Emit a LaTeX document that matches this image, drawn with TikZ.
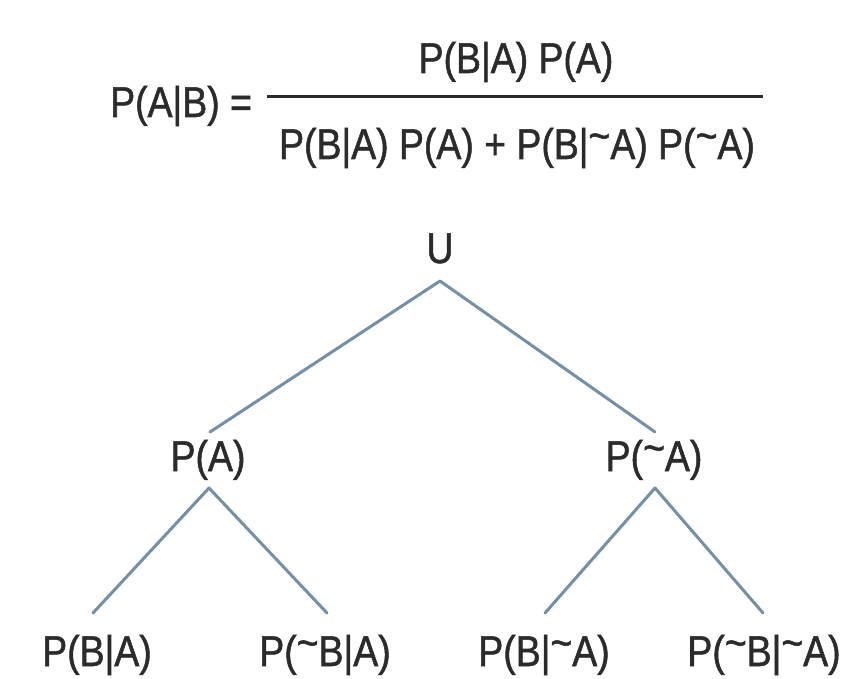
\documentclass[tikz,border=0pt]{standalone}
\usepackage{fontspec}
\setmainfont{Liberation Sans}[FakeStretch=0.87, FakeBold=1.2]
\newcommand\tild{\raisebox{0.2em}{\textasciitilde}}
\definecolor{txt}{HTML}{2B2B2B}
\definecolor{edge}{HTML}{7390A6}
\begin{document}
\begin{tikzpicture}[x=1pt,y=-1pt,
  lbl/.style={font=\fontsize{43}{45}\selectfont, text=txt, inner sep=0pt, anchor=base},
  branch/.style={draw=edge, line width=3pt, line cap=round, line join=round}]
\useasboundingbox (0,0) rectangle (846,679);
% formula
\node[lbl, anchor=base west] (lhs) at (110,117) {P(A|B) =};
\node[lbl] (num) at (516,73) {P(B|A) P(A)};
\node[lbl] (den) at (517,159) {P(B|A) P(A) + P(B|\tild A) P(\tild A)};
\coordinate (barL) at (267,97);
\coordinate (barR) at (763,97);
\draw[line width=3pt, txt] (barL) -- (barR);
% tree nodes
\node[lbl] (U) at (440,263) {U};
\node[lbl] (PA) at (208,471) {P(A)};
\node[lbl] (PnA) at (654,471) {P(\tild A)};
\node[lbl] (BA) at (97,666) {P(B|A)};
\node[lbl] (nBA) at (325,666) {P(\tild B|A)};
\node[lbl] (BnA) at (544,666) {P(B|\tild A)};
\node[lbl] (nBnA) at (764,666) {P(\tild B|\tild A)};
% connector end points
\coordinate (U-b) at (440,281);
\coordinate (PA-t) at (210,432);
\coordinate (PnA-t) at (655,432);
\coordinate (PA-b) at (209,488);
\coordinate (PnA-b) at (655,488);
\coordinate (BA-t) at (93,613);
\coordinate (nBA-t) at (327,613);
\coordinate (BnA-t) at (545,613);
\coordinate (nBnA-t) at (763,613);
\draw[branch] (PA-t) -- (U-b) -- (PnA-t);
\draw[branch] (BA-t) -- (PA-b) -- (nBA-t);
\draw[branch] (BnA-t) -- (PnA-b) -- (nBnA-t);
\end{tikzpicture}
\end{document}
